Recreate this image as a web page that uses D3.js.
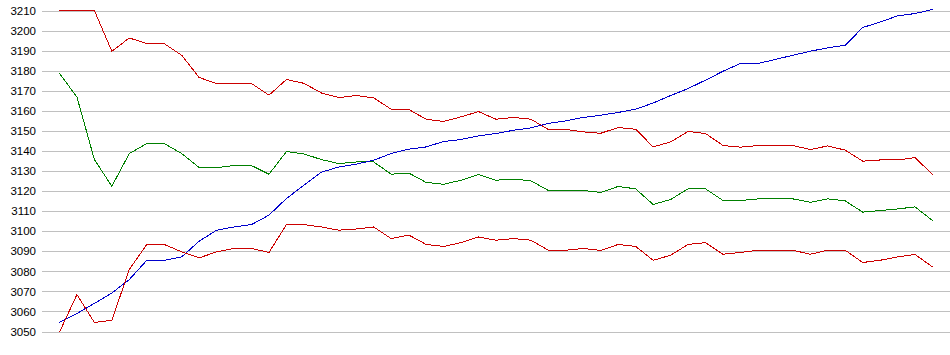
<!DOCTYPE html>
<html>
<head>
<meta charset="utf-8">
<script src="https://cdn.jsdelivr.net/npm/d3@7"></script>
<style>
  html, body { margin: 0; padding: 0; background: #fff; }
  #chart { width: 950px; height: 355px; }
  .grid line { stroke: #c0c0c0; shape-rendering: crispEdges; }
  .grid text { font-family: "Liberation Sans", Arial, sans-serif; font-size: 11.5px; fill: #000; }
  .series { fill: none; stroke-width: 1; shape-rendering: crispEdges; }
</style>
</head>
<body>
<div id="chart"></div>
<script>
// y tick labels
const yTicks = [3050, 3060, 3070, 3080, 3090, 3100, 3110, 3120, 3130, 3140, 3150, 3160, 3170, 3180, 3190, 3200, 3210];

// series values (one per sample, 51 samples)
const redUpper = [3210, 3210, 3210, 3189.7, 3196.3, 3193.5, 3193.5, 3187.7, 3176.6, 3173.6,
  3173.6, 3173.6, 3167.8, 3175.6, 3173.7, 3168.9, 3166.6, 3167.6, 3166.4, 3160.8,
  3160.7, 3155.8, 3154.7, 3157, 3159.6, 3155.8, 3156.7, 3155.8, 3150.7, 3150.7,
  3149.5, 3148.8, 3151.7, 3150.8, 3142, 3144.5, 3149.7, 3148.7, 3142.7, 3141.9,
  3142.7, 3142.7, 3142.7, 3140.7, 3142.5, 3140.4, 3134.9, 3135.5, 3135.5, 3136.7, 3128.2];

const green = [3178.6, 3166.9, 3135.7, 3122.4, 3138.7, 3143.7, 3143.7, 3138.7, 3131.7, 3131.7,
  3132.7, 3132.7, 3128.4, 3139.7, 3138.5, 3135.7, 3133.7, 3134.5, 3134.5, 3128.4,
  3129, 3124.3, 3123.4, 3125.4, 3128.2, 3125.4, 3126, 3125.1, 3120.3, 3120.3,
  3120.3, 3119.3, 3122.3, 3121.1, 3113.3, 3115.8, 3121.1, 3121.1, 3115.3, 3115.3,
  3116.1, 3116.1, 3116.1, 3114.4, 3116.1, 3115.1, 3109.5, 3110.3, 3111.1, 3112.1, 3105.3];

const blue = [3054.5, 3059, 3064, 3069.2, 3075.9, 3085.5, 3085.5, 3087.2, 3095, 3100.5,
  3102.1, 3103.3, 3108, 3116.3, 3122.9, 3129.4, 3132, 3133.4, 3135.4, 3138.7,
  3140.9, 3142, 3144.7, 3145.7, 3147.5, 3148.7, 3150.3, 3151.5, 3153.7, 3155,
  3156.7, 3157.8, 3159.2, 3160.8, 3163.9, 3167.6, 3171.1, 3175.3, 3179.7, 3183.6,
  3183.6, 3185.6, 3187.7, 3189.7, 3191.4, 3192.7, 3201.5, 3204.3, 3207.3, 3208.5, 3210.5];

const redLower = [3049.7, 3068.4, 3054.5, 3055.6, 3080.9, 3093.4, 3093.4, 3089.7, 3086.7, 3089.7,
  3091.4, 3091.4, 3089.4, 3103.3, 3103.3, 3102.1, 3100.5, 3101.1, 3102.1, 3096.3,
  3098.1, 3093.4, 3092.4, 3094.3, 3097.1, 3095.5, 3096.3, 3095.5, 3090.5, 3090.5,
  3091.4, 3090.4, 3093.4, 3092.4, 3085.5, 3088, 3093.4, 3094.3, 3088.5, 3089.4,
  3090.5, 3090.5, 3090.5, 3088.5, 3090.5, 3090.5, 3084.4, 3085.5, 3087.2, 3088.4, 3082.2];

const seriesList = [
  { values: redUpper, color: '#cc0000' },
  { values: green, color: '#008000' },
  { values: blue, color: '#0000cc' },
  { values: redLower, color: '#cc0000' }
];

const cw = 950, ch = 355;
const margin = { top: 10.5, right: 0, bottom: 23.5, left: 42 };
const w = cw - margin.left - margin.right;
const h = ch - margin.top - margin.bottom;

const svg = d3.select('#chart').append('svg')
  .attr('width', cw).attr('height', ch)
  .append('g')
  .attr('transform', `translate(${margin.left},${margin.top})`);

const xScale = d3.scalePoint()
  .domain(d3.range(redUpper.length))
  .range([0, w])
  .padding(1);

const yScale = d3.scaleLinear()
  .domain([yTicks[0], yTicks[yTicks.length - 1]])
  .range([h, 0]);

// Grid + labels
const grid = svg.append('g')
  .attr('class', 'grid')
  .call(d3.axisLeft(yScale).tickValues(yTicks).tickSize(-w).tickPadding(6).tickFormat(d => d));
grid.select('.domain').remove();
grid.selectAll('line').attr('stroke', '#c0c0c0');

// Lines
const line = d3.line()
  .x((d, i) => xScale(i))
  .y(d => yScale(d));

seriesList.forEach(s => {
  svg.append('path')
    .datum(s.values)
    .attr('class', 'series')
    .attr('stroke', s.color)
    .attr('d', line);
});
</script>
</body>
</html>
